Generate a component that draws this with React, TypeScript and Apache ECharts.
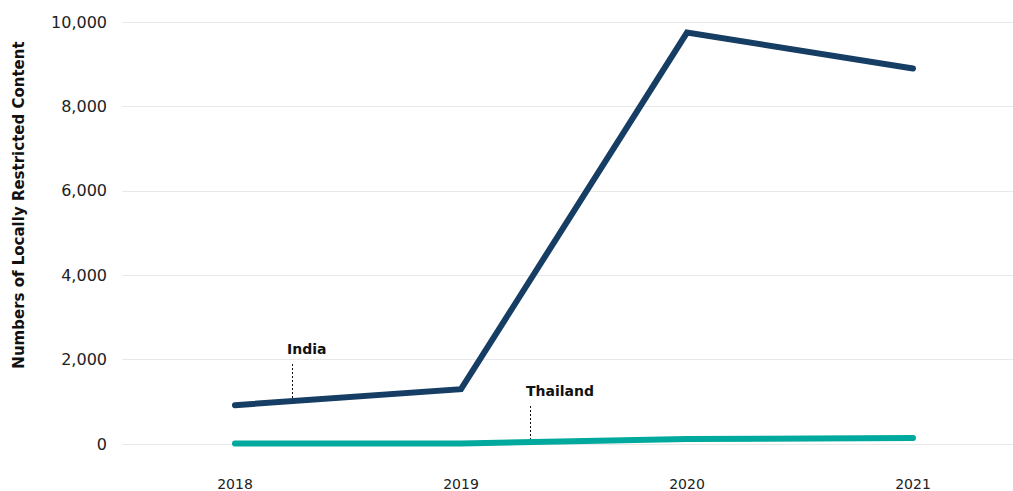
import React, { useEffect, useRef } from "react";
import * as echarts from "echarts";

const years = ["2018", "2019", "2020", "2021"];
const india = [920, 1300, 9750, 8900];
const thailand = [10, 10, 120, 140];
const yTicks = { min: 0, max: 10000, interval: 2000 };
const yTitle = "Numbers of Locally Restricted Content";

export default function App() {
  const ref = useRef<HTMLDivElement>(null);
  useEffect(() => {
    if (!ref.current) return;
    const chart = echarts.init(ref.current, undefined, { renderer: "svg" });
    const font = "'DejaVu Sans', sans-serif";
    chart.setOption({
      animation: false,
      grid: { left: 122, top: 22, right: 0, bottom: 47, containLabel: false },
      xAxis: {
        type: "category",
        data: years,
        boundaryGap: true,
        axisLine: { show: false },
        axisTick: { show: false },
        axisLabel: { color: "#222", fontSize: 14, fontFamily: font, margin: 33 },
      },
      yAxis: {
        type: "value",
        min: yTicks.min,
        max: yTicks.max,
        interval: yTicks.interval,
        axisLine: { show: false },
        axisTick: { show: false },
        axisLabel: {
          color: "#222",
          fontSize: 16,
          fontFamily: font,
          margin: 15,
          formatter: (v: number) => v.toLocaleString("en-US"),
        },
        splitLine: { lineStyle: { color: "#e8e8e8", width: 1 } },
      },
      series: [
        {
          name: "India",
          type: "line",
          data: india,
          showSymbol: false,
          lineStyle: { color: "#163d63", width: 6, cap: "round", join: "miter" },
          itemStyle: { color: "#163d63" },
          z: 3,
        },
        {
          name: "Thailand",
          type: "line",
          data: thailand,
          showSymbol: false,
          lineStyle: { color: "#00a99d", width: 6, cap: "round" },
          itemStyle: { color: "#00a99d" },
          z: 2,
        },
      ],
      graphic: [
        {
          type: "text",
          x: 19,
          y: 205,
          rotation: Math.PI / 2,
          style: {
            text: yTitle,
            fontSize: 15,
            fontWeight: "bold",
            fontFamily: font,
            fill: "#111",
            align: "center",
            verticalAlign: "middle",
          },
        },
        {
          type: "text",
          left: 287,
          top: 342,
          style: { text: "India", fontSize: 14, fontWeight: "bold", fontFamily: font, fill: "#111" },
        },
        {
          type: "line",
          shape: { x1: 292.5, y1: 364, x2: 292.5, y2: 398 },
          style: { stroke: "#111", lineWidth: 1, lineDash: [2, 2] },
        },
        {
          type: "text",
          left: 526,
          top: 384,
          style: { text: "Thailand", fontSize: 14, fontWeight: "bold", fontFamily: font, fill: "#111" },
        },
        {
          type: "line",
          shape: { x1: 530.5, y1: 406, x2: 530.5, y2: 440 },
          style: { stroke: "#111", lineWidth: 1, lineDash: [2, 2] },
        },
      ],
    });
    return () => chart.dispose();
  }, []);
  return (
    <div style={{ position: "absolute", left: 0, top: 0, width: 1013, height: 491, overflow: "hidden" }}>
      <div ref={ref} style={{ width: 1026, height: 491 }} />
    </div>
  );
}
